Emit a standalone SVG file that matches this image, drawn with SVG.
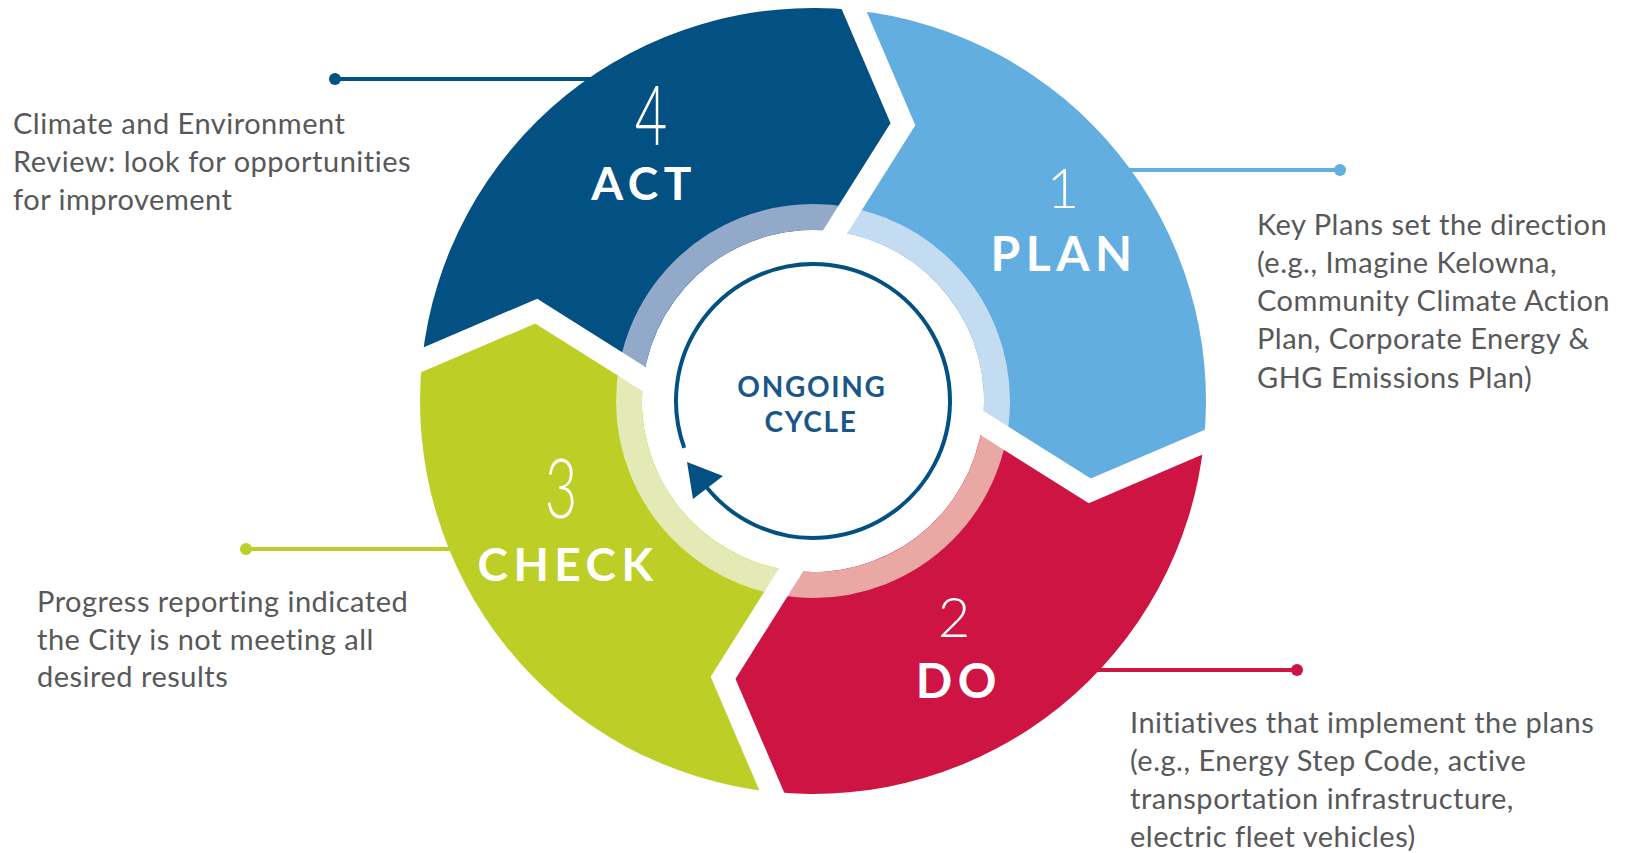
<svg xmlns="http://www.w3.org/2000/svg" width="1629" height="853" viewBox="0 0 1629 853">
<style>
.desc{font-family:Lato,"Liberation Sans",sans-serif;font-size:29px;letter-spacing:0.5px;fill:#58585a}
.num{font-family:Lato,"Liberation Sans",sans-serif;font-weight:300;font-size:56px;fill:#ffffff;text-anchor:middle}
.lbl{font-family:Lato,"Liberation Sans",sans-serif;font-weight:700;fill:#ffffff;text-anchor:middle;letter-spacing:5.5px}
.ctr{font-family:Lato,"Liberation Sans",sans-serif;font-weight:700;font-size:28px;fill:#1a5788;text-anchor:middle;letter-spacing:1.7px}
.gap{fill:none;stroke:#ffffff;stroke-width:22;stroke-linejoin:miter;stroke-miterlimit:10}
.lead{stroke-width:4;fill:none}
</style>
<defs>
<clipPath id="segclip">
<path d="M41.08,-390.85 A393,393 0 0 1 390.85,41.08 L276.76,89.92 L169.54,22.32 A171,171 0 0 0 22.32,-169.54 L89.92,-276.76 Z"/>
</clipPath>
<polyline id="gapline" class="gap" points="413.83,31.25 276.76,89.92 148.39,8.99"/>
</defs>
<rect width="1629" height="853" fill="#ffffff"/>
<g id="connectors">
<line class="lead" stroke="#035082" x1="335" y1="79" x2="605" y2="79"/>
<circle cx="335" cy="79" r="6" fill="#035082"/>
<line class="lead" stroke="#62aee0" x1="1115" y1="170" x2="1340" y2="170"/>
<circle cx="1340" cy="170" r="6" fill="#62aee0"/>
<line class="lead" stroke="#cd1443" x1="1085" y1="670" x2="1297" y2="670"/>
<circle cx="1297" cy="670" r="6" fill="#cd1443"/>
<line class="lead" stroke="#bdcf26" x1="246" y1="549" x2="465" y2="549"/>
<circle cx="246" cy="549" r="6" fill="#bdcf26"/>
</g>
<g id="plan">
<g transform="translate(813,401)"><g clip-path="url(#segclip)"><circle r="395" fill="#62aee0"/><circle r="184" fill="none" stroke="#c4dcf2" stroke-width="26"/></g></g>
<text class="num" x="1063" y="208">1</text>
<text class="lbl" x="1064" y="271" font-size="48">PLAN</text>
<text class="desc"><tspan x="1257" y="235">Key Plans set the direction</tspan><tspan x="1257" y="273">(e.g., Imagine Kelowna,</tspan><tspan x="1257" y="311">Community Climate Action</tspan><tspan x="1257" y="349">Plan, Corporate Energy &amp;</tspan><tspan x="1257" y="388">GHG Emissions Plan)</tspan></text>
</g>
<g id="do">
<g transform="translate(813,401) rotate(90)"><g clip-path="url(#segclip)"><circle r="395" fill="#cd1443"/><circle r="184" fill="none" stroke="#eaa8a5" stroke-width="26"/></g></g>
<text class="num" x="954" y="637">2</text>
<text class="lbl" x="959" y="698" font-size="48">DO</text>
<text class="desc"><tspan x="1130" y="733">Initiatives that implement the plans</tspan><tspan x="1130" y="771">(e.g., Energy Step Code, active</tspan><tspan x="1130" y="809">transportation infrastructure,</tspan><tspan x="1130" y="847">electric fleet vehicles)</tspan></text>
</g>
<g id="check">
<g transform="translate(813,401) rotate(180)"><g clip-path="url(#segclip)"><circle r="395" fill="#bdcf26"/><circle r="184" fill="none" stroke="#e3eab5" stroke-width="26"/></g></g>
<text class="num" transform="translate(561,518) scale(1,1.48)">3</text>
<text class="lbl" x="568" y="581" font-size="46">CHECK</text>
<text class="desc"><tspan x="37" y="612">Progress reporting indicated</tspan><tspan x="37" y="650">the City is not meeting all</tspan><tspan x="37" y="687">desired results</tspan></text>
</g>
<g id="act">
<g transform="translate(813,401) rotate(270)"><g clip-path="url(#segclip)"><circle r="395" fill="#035082"/><circle r="184" fill="none" stroke="#93a9c9" stroke-width="26"/></g></g>
<text class="num" transform="translate(651,145) scale(1,1.48)">4</text>
<text class="lbl" x="644" y="200" font-size="46">ACT</text>
<text class="desc"><tspan x="13" y="134">Climate and Environment</tspan><tspan x="13" y="172">Review: look for opportunities</tspan><tspan x="13" y="210">for improvement</tspan></text>
</g>
<g id="gaps">
<use href="#gapline" transform="translate(813,401)"/>
<use href="#gapline" transform="translate(813,401) rotate(90)"/>
<use href="#gapline" transform="translate(813,401) rotate(180)"/>
<use href="#gapline" transform="translate(813,401) rotate(270)"/>
</g>
<g id="ongoing-cycle">
<path d="M684.26,447.86 A137,137 0 1 1 706.53,487.22" fill="none" stroke="#035082" stroke-width="4"/>
<polygon points="687,462 693,499 723,476" fill="#035082"/>
<text class="ctr" x="812" y="397">ONGOING</text>
<text class="ctr" x="811" y="432">CYCLE</text>
</g>
</svg>
